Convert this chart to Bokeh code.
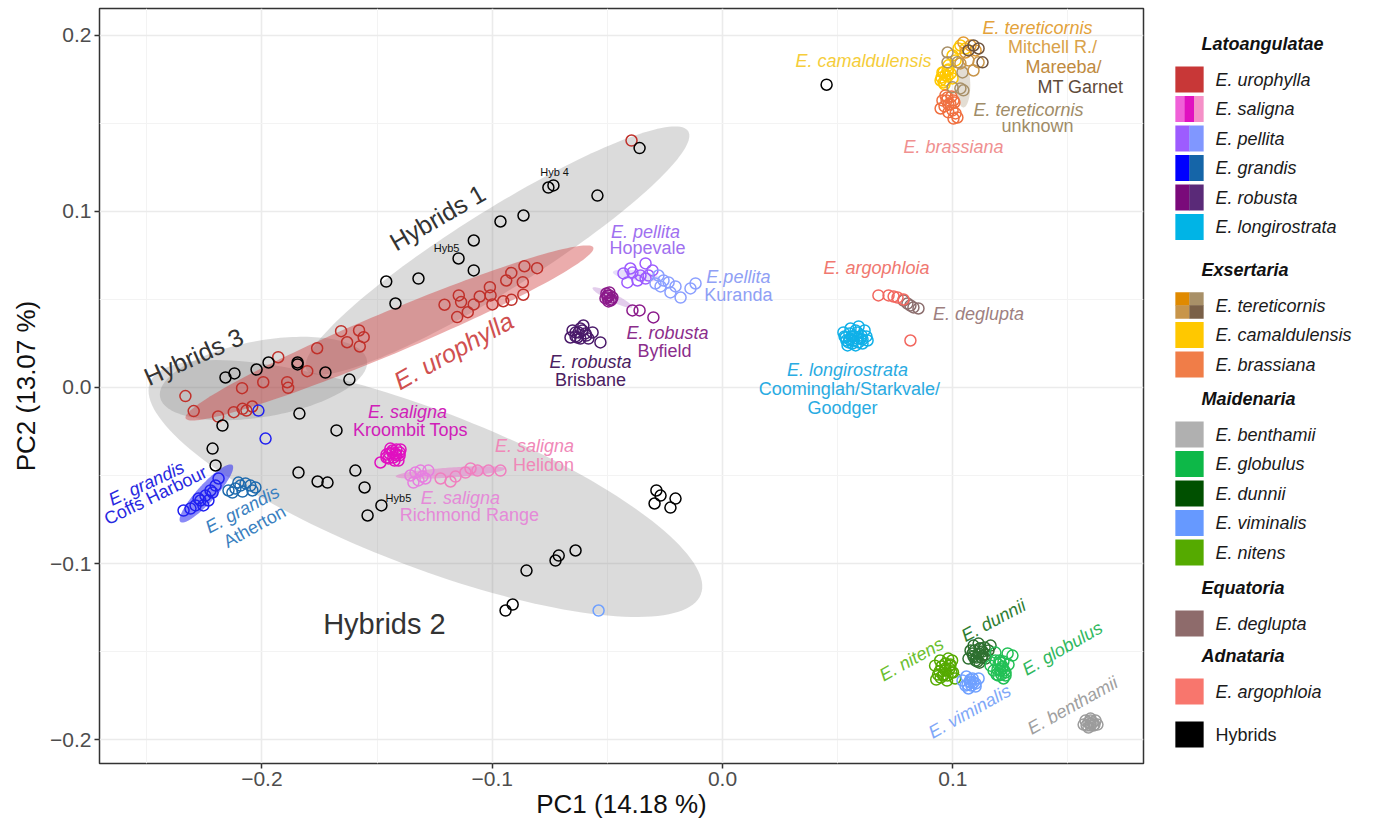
import numpy as np
from bokeh.plotting import figure
from bokeh.models import Range1d, Label, FixedTicker, CustomJSTickFormatter, ColumnDataSource
from bokeh.layouts import row
from bokeh.embed import file_html
from bokeh.resources import INLINE
from bokeh.core.properties import value

FONT = "Liberation Sans"

# ---------------- data: (PC1, PC2) scores ----------------
hybrids = [
    (0.0452, 0.172), (-0.036, 0.136), (-0.0756, 0.1136), (-0.0734, 0.1148),
    (-0.0543, 0.109), (-0.0864, 0.0977), (-0.0964, 0.0943), (-0.108, 0.0835),
    (-0.1146, 0.0733), (-0.108, 0.0665), (-0.132, 0.0619), (-0.146, 0.0602),
    (-0.142, 0.0477), (-0.2158, 0.0057), (-0.2119, 0.008), (-0.2023, 0.0102),
    (-0.1971, 0.0142), (-0.1845, 0.0142), (-0.1845, 0.0131), (-0.1724, 0.0085),
    (-0.162, 0.0045), (-0.2171, -0.0216), (-0.1837, -0.0148), (-0.1676, -0.0244),
    (-0.2214, -0.0347), (-0.2201, -0.0443), (-0.1841, -0.0483), (-0.1758, -0.0534),
    (-0.1715, -0.054), (-0.1594, -0.0472), (-0.1554, -0.0568), (-0.1541, -0.0727),
    (-0.1481, -0.067), (-0.0287, -0.0585), (-0.0269, -0.0614), (-0.0204, -0.0631),
    (-0.0295, -0.0659), (-0.0226, -0.0682), (-0.0638, -0.0926), (-0.0725, -0.0983),
    (-0.0711, -0.0955), (-0.0851, -0.104), (-0.0942, -0.1267), (-0.0911, -0.1233),
]
urophylla = [
    (-0.0395, 0.1403), (-0.0805, 0.0678), (-0.086, 0.0689), (-0.0917, 0.0651),
    (-0.0939, 0.0608), (-0.0867, 0.0598), (-0.0865, 0.0527), (-0.0916, 0.0498),
    (-0.0952, 0.049), (-0.0999, 0.0472), (-0.1007, 0.0523), (-0.101, 0.057),
    (-0.1054, 0.0517), (-0.108, 0.0472), (-0.1106, 0.0428), (-0.1152, 0.04),
    (-0.1145, 0.0523), (-0.1135, 0.0485), (-0.1207, 0.047), (-0.1578, 0.0324),
    (-0.1558, 0.0286), (-0.1575, 0.0233), (-0.163, 0.0257), (-0.1656, 0.032),
    (-0.176, 0.0223), (-0.1803, 0.0093), (-0.1929, 0.0172), (-0.1994, 0.003),
    (-0.2086, -0.0004), (-0.189, 0.003), (-0.1886, -0.0002), (-0.2332, -0.0049),
    (-0.2296, -0.0134), (-0.219, -0.0165), (-0.2122, -0.014), (-0.2067, -0.0131),
    (-0.2042, -0.0108), (-0.2084, -0.0121),
]
saligna_kroombit = [
    (-0.1485, -0.0426), (-0.145, -0.0403), (-0.1433, -0.0369), (-0.1416, -0.0352),
    (-0.1402, -0.0386), (-0.1424, -0.0415), (-0.1398, -0.0352), (-0.1459, -0.0381),
    (-0.1442, -0.0347), (-0.142, -0.0375), (-0.1407, -0.0415), (-0.1433, -0.0358),
    (-0.1416, -0.0386), (-0.1446, -0.0375), (-0.1429, -0.0398), (-0.1402, -0.0369),
    (-0.1459, -0.0398),
]
saligna_richmond = [
    (-0.1355, -0.05), (-0.1333, -0.0483), (-0.1311, -0.0472), (-0.132, -0.0528),
    (-0.129, -0.0517), (-0.1342, -0.054), (-0.1277, -0.0472), (-0.1303, -0.0506),
]
saligna_helidon = [
    (-0.1224, -0.0517), (-0.1159, -0.0506), (-0.1116, -0.0483), (-0.1094, -0.046),
    (-0.1064, -0.0472), (-0.1016, -0.0472), (-0.0964, -0.0472), (-0.1181, -0.0534),
]
pellita_hopevale = [
    (-0.0334, 0.0705), (-0.043, 0.0648), (-0.0391, 0.0653), (-0.0356, 0.0636),
    (-0.0321, 0.0636), (-0.0413, 0.0597), (-0.0369, 0.0608), (-0.0334, 0.0619),
    (-0.0304, 0.0665), (-0.04, 0.0676),
]
pellita_kuranda = [
    (-0.0278, 0.0636), (-0.0234, 0.0597), (-0.0204, 0.0574), (-0.0269, 0.0574),
    (-0.0226, 0.054), (-0.0182, 0.0511), (-0.0139, 0.0563), (-0.0117, 0.0591),
    (-0.0256, 0.0608), (-0.0291, 0.0591),
]
grandis_coffs = [
    (-0.234, -0.0699), (-0.231, -0.0688), (-0.2288, -0.067), (-0.2267, -0.0642),
    (-0.2245, -0.0614), (-0.2223, -0.0585), (-0.2201, -0.0557), (-0.2188, -0.0517),
    (-0.2232, -0.0642), (-0.2275, -0.0631), (-0.2214, -0.0597), (-0.2254, -0.067),
    (-0.2015, -0.0131), (-0.1984, -0.029),
]
grandis_atherton = [
    (-0.2145, -0.0585), (-0.2115, -0.0574), (-0.2093, -0.0557), (-0.2071, -0.0545),
    (-0.205, -0.0557), (-0.2028, -0.0568), (-0.2084, -0.0591), (-0.2128, -0.0597),
    (-0.2041, -0.0585), (-0.2102, -0.054),
]
robusta_byfield = [
    (-0.0499, 0.0523), (-0.0486, 0.0494), (-0.0508, 0.0506), (-0.0491, 0.054),
    (-0.0478, 0.0511), (-0.0391, 0.0438), (-0.036, 0.0438), (-0.03, 0.0398),
    (-0.0499, 0.0511), (-0.0491, 0.0523), (-0.0504, 0.0534), (-0.0482, 0.05),
    (-0.0495, 0.0489),
]
robusta_brisbane = [
    (-0.066, 0.0284), (-0.0638, 0.0313), (-0.0617, 0.0335), (-0.0604, 0.0352),
    (-0.063, 0.0284), (-0.0595, 0.0307), (-0.0564, 0.0313), (-0.053, 0.0256),
    (-0.0651, 0.0324), (-0.0582, 0.0278), (-0.0625, 0.0313), (-0.0608, 0.0324),
    (-0.0591, 0.0295), (-0.0638, 0.029), (-0.0617, 0.0278),
]
longirostrata = [
    (0.0534, 0.0284), (0.0569, 0.0267), (0.0599, 0.0278), (0.0556, 0.0335),
    (0.0547, 0.0256), (0.0586, 0.0313), (0.0608, 0.025), (0.056, 0.029),
    (0.0578, 0.0239), (0.0525, 0.0313), (0.0625, 0.029), (0.0591, 0.0347),
    (0.0543, 0.0239), (0.0617, 0.0324), (0.0551, 0.0307), (0.0569, 0.029),
    (0.0586, 0.0278), (0.0604, 0.0295), (0.0538, 0.0267), (0.0564, 0.025),
    (0.0591, 0.0256), (0.0578, 0.0324), (0.0551, 0.0273), (0.0608, 0.0273),
    (0.053, 0.029), (0.063, 0.0267),
]
tereticornis_mitchell = [
    (0.1077, 0.1943), (0.1099, 0.1915), (0.1055, 0.1903), (0.1046, 0.196),
]
tereticornis_mareeba = [
    (0.1112, 0.1847), (0.1068, 0.1858), (0.109, 0.1801), (0.1033, 0.1841),
]
tereticornis_mtgarnet = [
    (0.109, 0.1943), (0.1112, 0.1926), (0.1129, 0.1847), (0.1068, 0.1915),
]
tereticornis_unknown = [
    (0.0977, 0.1903), (0.0977, 0.1847), (0.0999, 0.1705), (0.1033, 0.1699),
    (0.1046, 0.1688), (0.102, 0.1847), (0.1042, 0.179),
]
camaldulensis = [
    (0.0955, 0.179), (0.0968, 0.1773), (0.0947, 0.1744), (0.096, 0.1733),
    (0.0977, 0.1801), (0.0999, 0.1886), (0.1033, 0.1943), (0.1025, 0.1926),
    (0.1012, 0.1858), (0.0981, 0.183), (0.1055, 0.1926), (0.096, 0.179),
    (0.0977, 0.1767), (0.0968, 0.1744), (0.099, 0.1784), (0.0951, 0.1761),
    (0.0981, 0.1807), (0.0999, 0.1756), (0.0964, 0.1722),
]
brassiana = [
    (0.0955, 0.1631), (0.0977, 0.1648), (0.1003, 0.1631), (0.0947, 0.1585),
    (0.0999, 0.1574), (0.1003, 0.1528), (0.102, 0.1534), (0.0981, 0.1608),
    (0.0968, 0.1659), (0.0973, 0.1631), (0.099, 0.1608), (0.1007, 0.1619),
    (0.0964, 0.1597), (0.0981, 0.1563), (0.1012, 0.1557), (0.0994, 0.1653),
]
benthamii = [
    (0.1598, -0.1909), (0.1576, -0.1892), (0.162, -0.1892), (0.1589, -0.1932),
    (0.1611, -0.192), (0.1568, -0.1915), (0.1628, -0.1915), (0.1598, -0.1881),
    (0.1589, -0.1903), (0.1607, -0.1903), (0.1598, -0.192), (0.1581, -0.192),
    (0.1615, -0.1915), (0.1598, -0.1892),
]
globulus = [
    (0.1185, -0.1551), (0.1216, -0.1597), (0.1198, -0.1636), (0.1229, -0.1619),
    (0.1185, -0.1506), (0.1238, -0.1511), (0.1164, -0.158), (0.1207, -0.1563),
    (0.122, -0.1653), (0.1242, -0.1574), (0.1177, -0.1608), (0.1259, -0.1523),
    (0.1198, -0.1574), (0.1216, -0.1585), (0.1207, -0.1608), (0.1224, -0.1608),
    (0.1194, -0.1602), (0.1211, -0.1631), (0.1229, -0.1636), (0.1203, -0.1551),
    (0.122, -0.1557), (0.119, -0.1631),
]
dunnii = [
    (0.1077, -0.1494), (0.112, -0.1483), (0.1142, -0.154), (0.1099, -0.1551),
    (0.1112, -0.1455), (0.1155, -0.1494), (0.1068, -0.154), (0.1129, -0.1523),
    (0.109, -0.1466), (0.1116, -0.1563), (0.1164, -0.1466), (0.1086, -0.1511),
    (0.1094, -0.1494), (0.1112, -0.1511), (0.1129, -0.15), (0.1103, -0.1534),
    (0.1125, -0.1534), (0.1142, -0.1517), (0.109, -0.1528), (0.1116, -0.1483),
    (0.1138, -0.1477), (0.1107, -0.1557),
]
viminalis = [
    (0.1077, -0.1676), (0.1055, -0.1693), (0.1099, -0.1682), (0.1068, -0.171),
    (0.1086, -0.1653), (0.1042, -0.1665), (0.1112, -0.1653), (0.1059, -0.1642),
    (0.1073, -0.167), (0.109, -0.1676), (0.1081, -0.1693), (0.1064, -0.1688),
    (0.1099, -0.1699), (0.1077, -0.1659), (-0.0538, -0.1267),
]
nitens = [
    (0.0923, -0.158), (0.0988, -0.158), (0.0958, -0.1636), (0.1001, -0.1619),
    (0.0945, -0.1551), (0.0975, -0.1665), (0.0936, -0.1631), (0.0997, -0.1551),
    (0.0967, -0.1597), (0.101, -0.1653), (0.0928, -0.1659), (0.098, -0.154),
    (0.0951, -0.1585), (0.0968, -0.1608), (0.0986, -0.1597), (0.096, -0.1631),
    (0.0977, -0.1636), (0.0994, -0.1619), (0.0942, -0.1614), (0.0968, -0.1568),
    (0.099, -0.1574), (0.0947, -0.1648),
]
deglupta = [
    (0.0803, 0.0477), (0.0829, 0.0455), (0.0851, 0.0449), (0.0786, 0.0494),
    (0.0816, 0.0466),
]
argophloia = [
    (0.0677, 0.0523), (0.0721, 0.0523), (0.076, 0.0511), (0.0786, 0.05),
    (0.0816, 0.0267), (0.0743, 0.0517),
]

# confidence ellipses: centre, major semi-axis vector, minor semi-axis vector (PC units)
ellipse_groups = ["Hybrids 2", "Hybrids 3", "Hybrids 1", "E. urophylla",
                  "E. grandis Coffs Harbour", "E. saligna", "E. robusta Byfield",
                  "E. pellita", "E. tereticornis"]
ellipse_center = [(-0.129, -0.0574), (-0.1993, 0.0051), (-0.0977, 0.0778), (-0.1446, 0.031),
                  (-0.2241, -0.0602), (-0.1181, -0.0483), (-0.0478, 0.0511),
                  (-0.0373, 0.0636), (0.1046, 0.1716)]
ellipse_major = [(0.1196, -0.0601), (0.0449, 0.0104), (0.0828, 0.0678), (0.0885, 0.0485),
                 (0.01127, 0.01615), (0.0238, 0.00218), (0.0086, -0.0055),
                 (0.0103, -0.0019), (0.0, 0.0125)]
ellipse_minor = [(0.01214, 0.0414), (-0.00287, 0.0213), (-0.0092, 0.0193), (-0.00352, 0.011),
                 (-0.00288, 0.00345), (-0.00015, 0.00283), (0.00076, 0.00204),
                 (0.0003, 0.0028), (-0.003, 0.0)]

# ---------------- styles ----------------
ellipse_style = {
    "Hybrids 2": ("#7F7F7F", 0.28), "Hybrids 3": ("#7F7F7F", 0.28),
    "Hybrids 1": ("#7F7F7F", 0.28), "E. urophylla": ("#D03A3A", 0.42),
    "E. grandis Coffs Harbour": ("#2828F0", 0.55), "E. saligna": ("#E860C8", 0.4),
    "E. robusta Byfield": ("#B070C8", 0.35), "E. pellita": ("#B8A0F0", 0.35),
    "E. tereticornis": ("#C8BCA8", 0.5),
}

point_groups = [
    (urophylla, "#C0302A"), (saligna_richmond, "#E67FE0"), (saligna_helidon, "#F07FBF"),
    (saligna_kroombit, "#E010C0"), (pellita_hopevale, "#9D5CFF"), (pellita_kuranda, "#8CA0FF"),
    (grandis_coffs, "#2020F0"), (grandis_atherton, "#1F6BAE"), (robusta_byfield, "#8B1A8B"),
    (robusta_brisbane, "#4A1A6A"), (longirostrata, "#10B0E8"), (camaldulensis, "#FFC800"),
    (brassiana, "#F07040"), (tereticornis_unknown, "#A89068"), (tereticornis_mitchell, "#E39A30"),
    (tereticornis_mareeba, "#C8954A"), (tereticornis_mtgarnet, "#6E5440"),
    (benthamii, "#9C9C9C"), (nitens, "#55AA00"), (dunnii, "#2E7030"), (globulus, "#22C055"),
    (viminalis, "#6FA0FF"), (deglupta, "#8C6E6E"), (argophloia, "#F2675F"),
    (hybrids, "#000000"),
]

# text annotations: (text, PC1, PC2, colour, size px, angle deg, style)
annotations = [
    ("E. tereticornis", 0.1368, 0.204, "#E3A23A", 18, 0, "italic"),
    ("Mitchell R./", 0.1433, 0.1932, "#D9A24A", 18, 0, "normal"),
    ("Mareeba/", 0.1481, 0.1818, "#C08A40", 18, 0, "normal"),
    ("MT Garnet", 0.1554, 0.1705, "#5E4A3A", 18, 0, "normal"),
    ("E. camaldulensis", 0.0612, 0.1852, "#F5CD3A", 18, 0, "italic"),
    ("E. tereticornis", 0.1329, 0.1574, "#A08C68", 18, 0, "italic"),
    ("unknown", 0.1368, 0.1483, "#A08C68", 18, 0, "normal"),
    ("E. brassiana", 0.1003, 0.1364, "#F09090", 18, 0, "italic"),
    ("Hyb 4", -0.0729, 0.1222, "#111111", 11, 0, "normal"),
    ("Hybrids 1", -0.1238, 0.0966, "#333333", 25, 30, "normal"),
    ("Hyb5", -0.1198, 0.0795, "#111111", 11, 0, "normal"),
    ("E. pellita", -0.0334, 0.0886, "#A070F0", 18, 0, "italic"),
    ("Hopevale", -0.0326, 0.0795, "#A070F0", 18, 0, "normal"),
    ("E.pellita", 0.0069, 0.0625, "#8FA0F5", 18, 0, "italic"),
    ("Kuranda", 0.0069, 0.0528, "#8FA0F5", 18, 0, "normal"),
    ("E. argophloia", 0.0669, 0.0676, "#F07870", 18, 0, "italic"),
    ("E. deglupta", 0.1112, 0.0415, "#9E8080", 18, 0, "italic"),
    ("E. urophylla", -0.1168, 0.021, "#D05050", 25, 29, "italic"),
    ("E. robusta", -0.0239, 0.0307, "#8B2D8B", 18, 0, "italic"),
    ("Byfield", -0.0252, 0.021, "#8B2D8B", 18, 0, "normal"),
    ("E. robusta", -0.0573, 0.0142, "#4A2060", 18, 0, "italic"),
    ("Brisbane", -0.0573, 0.004, "#4A2060", 18, 0, "normal"),
    ("E. longirostrata", 0.0543, 0.0102, "#29ABE2", 18, 0, "italic"),
    ("Coominglah/Starkvale/", 0.0551, -0.0011, "#29ABE2", 18, 0, "normal"),
    ("Goodger", 0.0521, -0.0119, "#29ABE2", 18, 0, "normal"),
    ("Hybrids 3", -0.2297, 0.0176, "#333333", 25, 24, "normal"),
    ("E. saligna", -0.1368, -0.0142, "#D020B8", 18, 0, "italic"),
    ("Kroombit Tops", -0.1355, -0.0244, "#D020B8", 18, 0, "normal"),
    ("E. saligna", -0.0816, -0.0335, "#F088B8", 18, 0, "italic"),
    ("Helidon", -0.0777, -0.0438, "#F088B8", 18, 0, "normal"),
    ("E. grandis", -0.2501, -0.0545, "#2828E0", 18, 25, "italic"),
    ("Coffs Harbour", -0.2462, -0.0614, "#2828E0", 18, 26, "normal"),
    ("E. grandis", -0.2084, -0.0693, "#3A80C0", 18, 28, "italic"),
    ("Atherton", -0.2032, -0.079, "#3A80C0", 18, 29, "normal"),
    ("Hyb5", -0.1407, -0.0625, "#111111", 11, 0, "normal"),
    ("E. saligna", -0.1138, -0.0625, "#E58AD8", 18, 0, "italic"),
    ("Richmond Range", -0.1099, -0.0727, "#E58AD8", 18, 0, "normal"),
    ("Hybrids 2", -0.1468, -0.1341, "#333333", 29, 0, "normal"),
    ("E. nitens", 0.0821, -0.1545, "#6CBF30", 18, 29, "italic"),
    ("E. dunnii", 0.1177, -0.1324, "#2E7D32", 18, 28, "italic"),
    ("E. globulus", 0.1476, -0.1483, "#30B860", 18, 30, "italic"),
    ("E. viminalis", 0.1073, -0.1841, "#80A8F8", 18, 29, "italic"),
    ("E. benthamii", 0.152, -0.1807, "#A0A0A0", 18, 29, "italic"),
]

# legend content
legend_sections = [
    ("Latoangulatae", [("E. urophylla", ["#C83737"]),
                       ("E. saligna", ["#F060D8", "#E010C0", "#F590C8"]),
                       ("E. pellita", ["#9D5CFF", "#8097FF"]),
                       ("E. grandis", ["#0000FF", "#1565A8"]),
                       ("E. robusta", ["#7A0A7A", "#5A2A78"]),
                       ("E. longirostrata", ["#00B4E6"])]),
    ("Exsertaria", [("E. tereticornis", ["#E08A00", "#A89068", "#C8954A", "#7A6048"]),
                    ("E. camaldulensis", ["#FFC800"]),
                    ("E. brassiana", ["#F07D48"])]),
    ("Maidenaria", [("E. benthamii", ["#B0B0B0"]), ("E. globulus", ["#0DB848"]),
                    ("E. dunnii", ["#005000"]), ("E. viminalis", ["#6699FF"]),
                    ("E. nitens", ["#55AA00"])]),
    ("Equatoria", [("E. deglupta", ["#8E6B6B"])]),
    ("Adnataria", [("E. argophloia", ["#F8766D"])]),
]
legend_extra = ("Hybrids", ["#000000"])

# ---------------- main plot ----------------
W_MAIN, H = 1148, 826
TOP, BOTTOM = 8, 63
p = figure(width=W_MAIN, height=H, x_range=Range1d(-0.2705, 0.1828),
           y_range=Range1d(-0.2136, 0.2153), output_backend="svg", toolbar_location=None,
           min_border_left=99, min_border_right=5, min_border_top=TOP, min_border_bottom=BOTTOM,
           background_fill_color="white", border_fill_color="white")

p.xaxis.ticker = FixedTicker(ticks=[-0.2, -0.1, 0.0, 0.1], minor_ticks=[-0.25, -0.15, -0.05, 0.05, 0.15])
p.yaxis.ticker = FixedTicker(ticks=[-0.2, -0.1, 0.0, 0.1, 0.2], minor_ticks=[-0.15, -0.05, 0.05, 0.15])
fmt = CustomJSTickFormatter(code="return (tick < -1e-9 ? '\\u2212' : '') + Math.abs(tick).toFixed(1);")
for ax in (p.xaxis[0], p.yaxis[0]):
    ax.formatter = fmt
    ax.axis_line_color = None
    ax.major_tick_line_color = "#333333"
    ax.major_tick_line_width = 1.5
    ax.major_tick_out = 5
    ax.major_tick_in = 0
    ax.minor_tick_line_color = None
    ax.major_label_text_font = FONT
    ax.major_label_text_font_size = "21px"
    ax.major_label_text_color = "#4D4D4D"
    ax.major_label_standoff = 3
    ax.axis_label_text_font = FONT
    ax.axis_label_text_font_size = "26px"
    ax.axis_label_text_font_style = "normal"
    ax.axis_label_text_color = "#111111"
p.xaxis.axis_label = "PC1 (14.18 %)"
p.yaxis.axis_label = "PC2 (13.07 %)"
p.xaxis.axis_label_standoff = 0
p.yaxis.axis_label_standoff = 6

p.grid.grid_line_color = "#EBEBEB"
p.grid.grid_line_width = 1.6
p.grid.minor_grid_line_color = "#F3F3F3"
p.grid.minor_grid_line_width = 1.0
p.outline_line_color = "#333333"
p.outline_line_width = 1.5

t = np.linspace(0, 2 * np.pi, 160)
for name, (cx, cy), (ax_, ay_), (bx_, by_) in zip(ellipse_groups, ellipse_center, ellipse_major, ellipse_minor):
    col, alpha = ellipse_style[name]
    xs = cx + ax_ * np.cos(t) + bx_ * np.sin(t)
    ys = cy + ay_ * np.cos(t) + by_ * np.sin(t)
    p.patch(xs, ys, fill_color=col, fill_alpha=alpha, line_color=None)

for pts, col in point_groups:
    xs = [a for a, b in pts]
    ys = [b for a, b in pts]
    p.scatter(xs, ys, marker="circle", size=11, fill_color=None, line_color=col, line_width=1.5)

for txt, x, y, col, size, ang, style in annotations:
    p.add_layout(Label(x=x, y=y, text=txt, text_align="center", text_baseline="middle",
                       angle=ang, angle_units="deg", text_font=FONT,
                       text_font_size=f"{size}px", text_font_style=style, text_color=col))

# ---------------- legend panel (its coordinates are page pixels) ----------------
LW = 224
leg = figure(width=LW, height=H, x_range=Range1d(0, LW), y_range=Range1d(H - BOTTOM, TOP),
             output_backend="svg", toolbar_location=None, x_axis_location=None,
             y_axis_location=None, min_border_left=0, min_border_right=0,
             min_border_top=TOP, min_border_bottom=BOTTOM, outline_line_color=None,
             background_fill_color="white", border_fill_color="white")
leg.grid.visible = False

SQ_X, SQ_W, SQ_H, TXT_X, HEAD_X = 41, 28, 26, 67, 53
HEAD_Y = [43, 269, 398, 587, 655]
HYB_Y = 734
STEP, FIRST = 29.5, 36
rx, ry, rw, rh, rc = [], [], [], [], []
tx, ty, tt = [], [], []
hx, hy, ht = [], [], []

def add_item(label, cols, y):
    if len(cols) == 4:
        for k, c in enumerate(cols):
            rx.append(SQ_X - SQ_W / 4 + (k % 2) * SQ_W / 2)
            ry.append(y - SQ_H / 4 + (k // 2) * SQ_H / 2)
            rw.append(SQ_W / 2 + 0.3); rh.append(SQ_H / 2 + 0.3); rc.append(c)
    else:
        n = len(cols)
        for k, c in enumerate(cols):
            rx.append(SQ_X - SQ_W / 2 + (k + 0.5) * SQ_W / n)
            ry.append(y); rw.append(SQ_W / n + 0.3); rh.append(SQ_H); rc.append(c)
    tx.append(TXT_X); ty.append(y); tt.append(label)

for (head, items), hyy in zip(legend_sections, HEAD_Y):
    hx.append(HEAD_X); hy.append(hyy); ht.append(head)
    for i, (label, cols) in enumerate(items):
        add_item(label, cols, hyy + FIRST + i * STEP)
add_item(legend_extra[0], legend_extra[1], HYB_Y)

leg.rect(x=rx, y=ry, width=rw, height=rh, fill_color=rc, line_color=None)
leg.text(x=hx, y=hy, text=ht, text_font=value(FONT), text_font_size="18px",
         text_font_style="bold italic", text_color="#111111", text_baseline="middle", text_align="left")
item_styles = ["italic"] * (len(tt) - 1) + ["normal"]
src = ColumnDataSource(dict(x=tx, y=ty, text=tt, style=item_styles))
leg.text(x="x", y="y", text="text", source=src, text_font=value(FONT), text_font_size="18px",
         text_font_style="style", text_color="#1A1A1A", text_baseline="middle", text_align="left")

layout = row(p, leg)
open("out.html", "w").write(file_html(layout, INLINE))
